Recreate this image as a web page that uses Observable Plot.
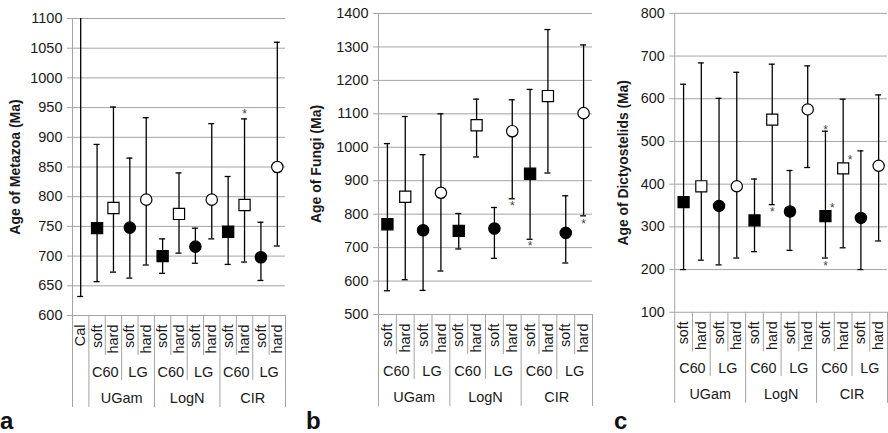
<!DOCTYPE html>
<html><head><meta charset="utf-8">
<script src="https://cdn.jsdelivr.net/npm/d3@7"></script>
<script src="https://cdn.jsdelivr.net/npm/@observablehq/plot@0.6"></script>
<style>
html,body{margin:0;padding:0;background:#fff;}
#wrap{position:relative;width:888px;height:433px;overflow:hidden;font-family:"Liberation Sans",Arial,sans-serif;background:#fff;}
.panel{position:absolute;top:0;}
.tag{position:absolute;top:409px;font-weight:bold;font-size:24px;line-height:24px;color:#111;}
</style></head><body><div id="wrap"></div>
<script>
// ---- categories ----
const clockModels = ["UGam", "LogN", "CIR"];
const subModels = ["C60", "LG"];
const priors = ["soft", "hard"];

// ---- panel a: Metazoa ----
const metazoaTicks = [600, 650, 700, 750, 800, 850, 900, 950, 1000, 1050, 1100];
const metazoaMean = [747, 781, 748, 795, 700, 771, 716, 795, 741, 786, 698, 850];
const metazoaLow  = [657, 673, 663, 685, 671, 705, 688, 729, 686, 690, 659, 717];
const metazoaHigh = [888, 951, 865, 933, 729, 840, 747, 923, 834, 931, 757, 1060];
const metazoaCal = {label: "Cal", low: 632, high: 1150};
const metazoaStars = [
  {clock: "CIR", sub: "C60", prior: "hard", value: 944, side: "center"}
];

// ---- panel b: Fungi ----
const fungiTicks = [500, 600, 700, 800, 900, 1000, 1100, 1200, 1300, 1400];
const fungiMean = [770, 852, 752, 864, 750, 1066, 757, 1048, 921, 1153, 744, 1102];
const fungiLow  = [571, 604, 572, 630, 696, 971, 668, 846, 725, 923, 654, 795];
const fungiHigh = [1011, 1092, 978, 1100, 802, 1144, 820, 1142, 1173, 1352, 855, 1306];
const fungiStars = [
  {clock: "LogN", sub: "LG", prior: "hard", value: 834, side: "center"},
  {clock: "CIR", sub: "C60", prior: "soft", value: 712, side: "center"},
  {clock: "CIR", sub: "LG", prior: "hard", value: 778, side: "center"}
];

// ---- panel c: Dictyostelids ----
const dictyTicks = [100, 200, 300, 400, 500, 600, 700, 800];
const dictyMean = [358, 395, 349, 395, 315, 551, 336, 575, 325, 437, 321, 443];
const dictyLow  = [200, 222, 211, 227, 242, 352, 245, 439, 227, 251, 200, 267];
const dictyHigh = [634, 684, 601, 662, 412, 681, 432, 677, 524, 599, 478, 609];
const dictyStars = [
  {clock: "LogN", sub: "C60", prior: "hard", value: 342, side: "center"},
  {clock: "CIR", sub: "C60", prior: "soft", value: 534, side: "center"},
  {clock: "CIR", sub: "C60", prior: "soft", value: 215, side: "center"},
  {clock: "CIR", sub: "C60", prior: "soft", value: 351, side: "right"},
  {clock: "CIR", sub: "C60", prior: "hard", value: 462, side: "right"}
];

const panelTitles = ["Age of Metazoa (Ma)", "Age of Fungi (Ma)", "Age of Dictyostelids (Ma)"];
const panelTags = ["a", "b", "c"];

// ---- layout (pixels) ----
const layouts = [
  {left: 0,   width: 290, marginLeft: 72, marginRight: 5, marginTop: 18, marginBottom: 118, titleDx: -57, tagLeft: 0},
  {left: 290, width: 305, marginLeft: 88, marginRight: 3, marginTop: 13, marginBottom: 119, titleDx: -62, tagLeft: 306},
  {left: 598, width: 293, marginLeft: 77, marginRight: 1, marginTop: 13, marginBottom: 118, titleDx: -52, tagLeft: 614}
];

const gray = "#a4a4a4";
const ink = "#1a1a1a";
const labelSize = 14.5;

function buildRows(mean, low, high, offset) {
  const rows = [];
  let n = 0;
  clockModels.forEach(clock => subModels.forEach(sub => priors.forEach(prior => {
    rows.push({clock, sub, prior, mean: mean[n], low: low[n], high: high[n], pos: offset + n + 0.5});
    n++;
  })));
  return rows;
}

function makePanel(spec, layout) {
  const {ticks, rows, cal, stars, title, offset} = spec;
  const ymin = ticks[0], ymax = ticks[ticks.length - 1];
  const n = rows.length + offset;
  const priorLabels = rows.map(r => ({x: r.pos, text: r.prior}));
  if (cal) priorLabels.unshift({x: 0.5, text: cal.label});
  const subLabels = [], clockLabels = [], priorSeps = [], subSeps = [], groupSeps = [];
  clockModels.forEach((c, k) => {
    clockLabels.push({x: offset + 4 * k + 2, text: c});
    groupSeps.push(offset + 4 * k + 4);
    subSeps.push(offset + 4 * k + 2);
    subModels.forEach((s, j) => {
      subLabels.push({x: offset + 4 * k + 2 * j + 1, text: s});
      priorSeps.push(offset + 4 * k + 2 * j + 1);
    });
  });
  if (cal) groupSeps.push(offset);
  const posOf = s => rows.find(r => r.clock === s.clock && r.sub === s.sub && r.prior === s.prior).pos;
  const starsC = stars.filter(s => s.side === "center");
  const starsR = stars.filter(s => s.side === "right");
  const bar = {stroke: "black", strokeWidth: 1.3};
  const cap = {insetLeft: -3, insetRight: -3, stroke: "black", strokeWidth: 1.3};
  const marks = [
    Plot.ruleY(ticks, {stroke: gray, strokeWidth: 1}),
    Plot.axisY(ticks, {tickSize: 5, tickPadding: 5, stroke: gray, fill: ink, fontSize: labelSize, label: null, tickFormat: d => String(d)}),
    Plot.ruleX([0], {x: d => d, y1: () => ymax, y2: () => ymin, insetBottom: -92, stroke: gray}),
    Plot.ruleX(groupSeps, {x: d => d, y1: () => ymin, y2: () => ymin, insetBottom: -92, stroke: gray}),
    Plot.ruleX(subSeps, {x: d => d, y1: () => ymin, y2: () => ymin, insetBottom: -65, stroke: gray}),
    Plot.ruleX(priorSeps, {x: d => d, y1: () => ymin, y2: () => ymin, insetBottom: -40, stroke: gray}),
    Plot.text(priorLabels, {x: "x", y: () => ymin, text: "text", rotate: -90, textAnchor: "end", dy: 9, fontSize: labelSize, fill: ink}),
    Plot.text(subLabels, {x: "x", y: () => ymin, text: "text", dy: 57, fontSize: labelSize, fill: ink}),
    Plot.text(clockLabels, {x: "x", y: () => ymin, text: "text", dy: 83, fontSize: labelSize, fill: ink}),
    Plot.text([title], {frameAnchor: "left", textAnchor: "middle", text: d => d, rotate: -90, dx: layout.titleDx, fontWeight: "bold", fontSize: 14, fill: ink})
  ];
  if (cal) {
    marks.push(
      Plot.ruleX([cal], {x: () => 0.5, y1: "low", y2: "high", clip: true, ...bar}),
      Plot.ruleY([cal], {x1: () => 0.5, x2: () => 0.5, y: "low", ...cap})
    );
  }
  marks.push(
    Plot.ruleX(rows, {x: "pos", y1: "low", y2: "high", ...bar}),
    Plot.ruleY(rows, {x1: "pos", x2: "pos", y: "high", ...cap}),
    Plot.ruleY(rows, {x1: "pos", x2: "pos", y: "low", ...cap}),
    Plot.dot(rows.filter(r => r.sub === "C60" && r.prior === "soft"), {x: "pos", y: "mean", symbol: "square", r: 6.3, fill: "black", stroke: "black", strokeWidth: 1.2}),
    Plot.dot(rows.filter(r => r.sub === "C60" && r.prior === "hard"), {x: "pos", y: "mean", symbol: "square", r: 6.3, fill: "white", stroke: "black", strokeWidth: 1.2}),
    Plot.dot(rows.filter(r => r.sub === "LG" && r.prior === "soft"), {x: "pos", y: "mean", symbol: "circle", r: 5.7, fill: "black", stroke: "black", strokeWidth: 1.2}),
    Plot.dot(rows.filter(r => r.sub === "LG" && r.prior === "hard"), {x: "pos", y: "mean", symbol: "circle", r: 5.7, fill: "white", stroke: "black", strokeWidth: 1.2}),
    Plot.text(starsC, {x: posOf, y: "value", text: () => "*", dy: 3, fontSize: 12, fill: "#444"}),
    Plot.text(starsR, {x: posOf, y: "value", text: () => "*", dx: 7, dy: 3, fontSize: 12, fill: "#444"})
  );
  return Plot.plot({
    width: layout.width,
    height: 433,
    marginLeft: layout.marginLeft,
    marginRight: layout.marginRight,
    marginTop: layout.marginTop,
    marginBottom: layout.marginBottom,
    x: {type: "linear", domain: [0, n], axis: null},
    y: {domain: [ymin, ymax]},
    style: {fontFamily: "'Liberation Sans', Arial, sans-serif", fontSize: "14px", color: ink, background: "transparent"},
    marks
  });
}

const specs = [
  {ticks: metazoaTicks, rows: buildRows(metazoaMean, metazoaLow, metazoaHigh, 1), cal: metazoaCal, stars: metazoaStars, title: panelTitles[0], offset: 1},
  {ticks: fungiTicks, rows: buildRows(fungiMean, fungiLow, fungiHigh, 0), cal: null, stars: fungiStars, title: panelTitles[1], offset: 0},
  {ticks: dictyTicks, rows: buildRows(dictyMean, dictyLow, dictyHigh, 0), cal: null, stars: dictyStars, title: panelTitles[2], offset: 0}
];

const wrap = document.getElementById("wrap");
specs.forEach((spec, i) => {
  const lay = layouts[i];
  const div = document.createElement("div");
  div.className = "panel";
  div.style.left = lay.left + "px";
  div.appendChild(makePanel(spec, lay));
  wrap.appendChild(div);
  const tag = document.createElement("div");
  tag.className = "tag";
  tag.style.left = lay.tagLeft + "px";
  tag.textContent = panelTags[i];
  wrap.appendChild(tag);
});
</script>
</body></html>
